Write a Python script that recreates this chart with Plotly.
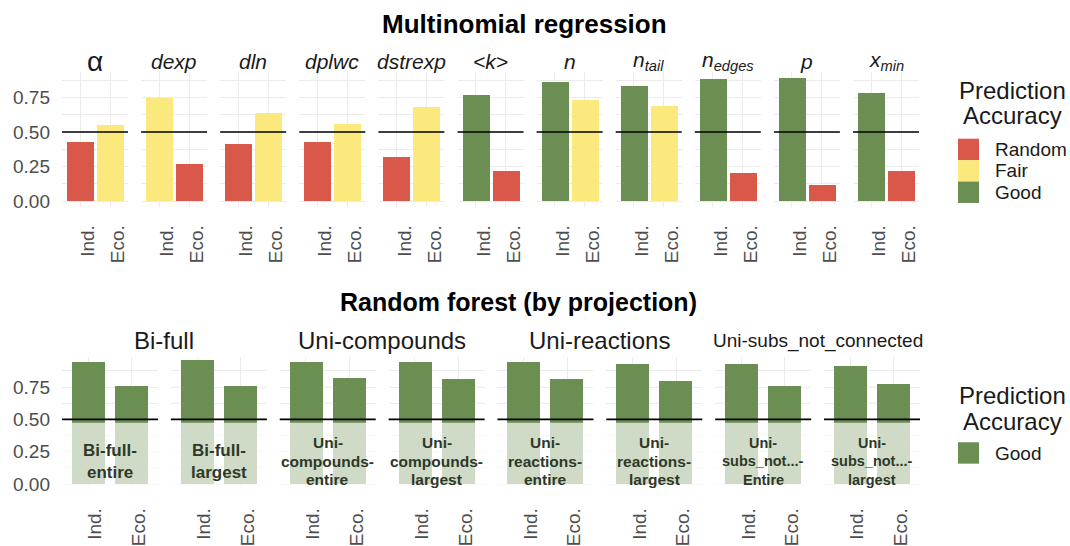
import plotly.graph_objects as go

W, H = 1070, 546
FONT = "Liberation Sans, Arial, Helvetica, sans-serif"

# ---------------- data ----------------
groups = ["Ind.", "Eco."]

# Multinomial regression: accuracy per fitted parameter
mn_params = ["α", "<i>dexp</i>", "<i>dln</i>", "<i>dplwc</i>", "<i>dstrexp</i>",
             "<i>&lt;k&gt;</i>", "<i>n</i>", "<i>n<sub>tail</sub></i>",
             "<i>n<sub>edges</sub></i>", "<i>p</i>", "<i>x<sub>min</sub></i>"]
mn_ind = [0.43, 0.745, 0.41, 0.43, 0.32, 0.77, 0.86, 0.83, 0.88, 0.89, 0.78]
mn_eco = [0.55, 0.27, 0.64, 0.56, 0.68, 0.22, 0.73, 0.69, 0.20, 0.12, 0.22]
mn_ind_class = ["Random", "Fair", "Random", "Random", "Random",
                "Good", "Good", "Good", "Good", "Good", "Good"]
mn_eco_class = ["Fair", "Random", "Fair", "Fair", "Fair",
                "Random", "Fair", "Fair", "Random", "Random", "Random"]

# Random forest: accuracy per network projection
rf_groups = ["Bi-full", "Uni-compounds", "Uni-reactions", "Uni-subs_not_connected"]
rf_labels = ["Bi-full-\nentire", "Bi-full-\nlargest",
             "Uni-\ncompounds-\nentire", "Uni-\ncompounds-\nlargest",
             "Uni-\nreactions-\nentire", "Uni-\nreactions-\nlargest",
             "Uni-\nsubs_not...-\nEntire", "Uni-\nsubs_not...-\nlargest"]
rf_ind = [0.94, 0.955, 0.94, 0.94, 0.94, 0.93, 0.93, 0.915]
rf_eco = [0.76, 0.755, 0.82, 0.81, 0.81, 0.80, 0.76, 0.775]
rf_class = "Good"

classes = ["Random", "Fair", "Good"]
palette = {"Random": "#D9584A", "Fair": "#FCE97E", "Good": "#6B8E53"}

# ---------------- styling ----------------
GRID = "#EBEBEB"
AXIS_TXT = "#4D4D4D"
DARK = "#1A1A1A"
THRESHOLD = 0.5
# in-panel label text is shrunk to fit the panel
label_sizes = [17, 17, 15.5, 15.5, 15.5, 15.5, 14.5, 14.5]


def fx(p):
    return p / W


def fy(p):
    return 1 - p / H


def ax_id(k):
    return "" if k == 1 else str(k)


fig = go.Figure()
layout = {}
shapes = []
annotations = []


def add_panel(k, x0, x1, ytop, ybot, yrange, ind_v, eco_v, colors, bar_w, first, shift):
    s = ax_id(k)
    fig.add_trace(go.Bar(
        x=groups, y=[ind_v, eco_v], marker=dict(color=colors, line=dict(width=0)),
        width=bar_w, xaxis="x" + s, yaxis="y" + s, showlegend=False,
        hovertemplate="%{x}: %{y:.2f}<extra></extra>"))
    layout["xaxis" + s] = dict(
        domain=[fx(x0), fx(x1)], anchor="y" + s, type="category",
        categoryorder="array", categoryarray=groups, range=[-0.6, 1.6],
        showgrid=True, gridcolor=GRID, gridwidth=1.3, zeroline=False, showline=False,
        ticks="", tickangle=-90, ticklabelshift=shift, ticklabelstandoff=13,
        tickfont=dict(family=FONT, size=19, color=AXIS_TXT), fixedrange=True)
    layout["yaxis" + s] = dict(
        domain=[fy(ybot), fy(ytop)], anchor="x" + s, range=yrange,
        tickvals=[0, 0.25, 0.5, 0.75], ticktext=["0.00", "0.25", "0.50", "0.75"],
        showticklabels=first, showgrid=True, gridcolor=GRID, gridwidth=1.3,
        minor=dict(tickvals=[0.125, 0.375, 0.625, 0.875], showgrid=True,
                   gridcolor=GRID, gridwidth=0.7),
        zeroline=False, showline=False, ticks="", ticklabelstandoff=11,
        tickfont=dict(family=FONT, size=19, color=AXIS_TXT), fixedrange=True)
    shapes.append(dict(type="line", xref="x" + s + " domain", yref="y" + s,
                       x0=0, x1=1, y0=THRESHOLD, y1=THRESHOLD,
                       line=dict(color="black", width=1.6), layer="above"))


# ---- top row: multinomial regression ----
TOP_Y = (73, 210)
TOP_RANGE = [-0.0445, 0.934]
for i in range(len(mn_params)):
    x0 = 62 + i * 79.1
    x1 = x0 + 66
    cols = [palette[mn_ind_class[i]], palette[mn_eco_class[i]]]
    add_panel(i + 1, x0, x1, TOP_Y[0], TOP_Y[1], TOP_RANGE,
              mn_ind[i], mn_eco[i], cols, 0.9, i == 0, 8)
    size = 28 if i == 0 else 21
    annotations.append(dict(text=mn_params[i], xref="paper", yref="paper",
                            x=fx((x0 + x1) / 2), y=fy(62), xanchor="center", yanchor="middle",
                            showarrow=False, font=dict(family=FONT, size=size, color=DARK)))

# ---- bottom row: random forest ----
BOT_Y = (361.7, 496.7)
BOT_RANGE = [-0.049, 0.982]
n_top = len(mn_params)
for j in range(len(rf_labels)):
    k = n_top + j + 1
    s = ax_id(k)
    x0 = 62 + j * 108.86
    x1 = x0 + 96
    cols = [palette[rf_class], palette[rf_class]]
    add_panel(k, x0, x1, BOT_Y[0], BOT_Y[1], BOT_RANGE,
              rf_ind[j], rf_eco[j], cols, 0.75, j == 0, 7)
    # translucent veil over the lower part of each panel
    shapes.append(dict(type="rect", xref="x" + s + " domain", yref="y" + s,
                       x0=0, x1=1, y0=BOT_RANGE[0], y1=0.473,
                       fillcolor="rgba(255,255,255,0.68)", line=dict(width=0), layer="above"))
    lines = rf_labels[j].split("\n")
    mid = (len(lines) - 1) / 2
    step = 22 if len(lines) == 2 else 18.4
    for li, txt in enumerate(lines):
        annotations.append(dict(text="<b>%s</b>" % txt, xref="x" + s + " domain", yref="y" + s,
                                x=0.5, y=0.177, yshift=(mid - li) * step,
                                xanchor="center", yanchor="middle", showarrow=False,
                                font=dict(family=FONT, size=label_sizes[j], color="#2E3829")))

# group headers over pairs of projection panels
for g, name in enumerate(rf_groups):
    left = 62 + (2 * g) * 108.86
    right = 62 + (2 * g + 1) * 108.86 + 96
    annotations.append(dict(text=name, xref="paper", yref="paper",
                            x=fx((left + right) / 2), y=fy(345), xanchor="center",
                            yanchor="middle", showarrow=False,
                            font=dict(family=FONT, size=24 if len(name) < 15 else 19, color=DARK)))

# titles
annotations.append(dict(text="<b>Multinomial regression</b>", xref="paper", yref="paper",
                        x=fx(524), y=fy(24), xanchor="center", yanchor="middle",
                        showarrow=False, font=dict(family=FONT, size=26, color="black")))
annotations.append(dict(text="<b>Random forest (by projection)</b>", xref="paper", yref="paper",
                        x=fx(518), y=fy(306), xanchor="center", yanchor="middle",
                        showarrow=False, font=dict(family=FONT, size=25, color="black")))


# legends
def add_legend(title_y, first_swatch_top, items):
    for t, yy in zip(["Prediction", "Accuracy"], title_y):
        annotations.append(dict(text=t, xref="paper", yref="paper", x=fx(1012), y=fy(yy),
                                xanchor="center", yanchor="middle", showarrow=False,
                                font=dict(family=FONT, size=24, color=DARK)))
    for n, c in enumerate(items):
        top = first_swatch_top + n * 21.7
        shapes.append(dict(type="rect", xref="paper", yref="paper",
                           x0=fx(958), x1=fx(979), y0=fy(top + 21.7), y1=fy(top),
                           fillcolor=palette[c], line=dict(width=0)))
        annotations.append(dict(text=c, xref="paper", yref="paper", x=fx(993),
                                y=fy(top + 11), xanchor="left", yanchor="middle",
                                showarrow=False, font=dict(family=FONT, size=19, color=DARK)))


add_legend((92, 117), 140.5, classes)
add_legend((401, 427), 448, [rf_class])

fig.update_layout(
    width=W, height=H, margin=dict(l=0, r=0, t=0, b=0),
    paper_bgcolor="white", plot_bgcolor="white",
    shapes=shapes, annotations=annotations, bargap=0, showlegend=False,
    font=dict(family=FONT),
    **layout)

fig.write_html("out.html")
